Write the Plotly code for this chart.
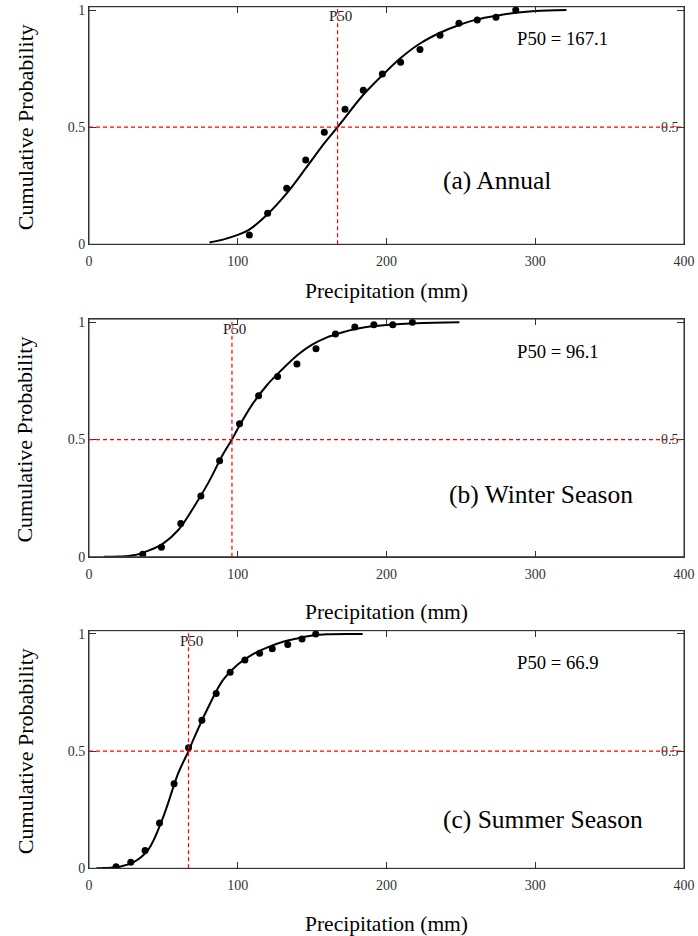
import plotly.graph_objects as go

# ---------------- data ----------------
annual_obs_x = [107.8, 120.1, 132.9, 145.7, 158.2, 172.1, 184.4, 197.2, 209.5, 222.5, 236.0, 248.7, 261.0, 273.6, 286.9]
annual_obs_y = [0.04, 0.132, 0.239, 0.36, 0.478, 0.576, 0.658, 0.727, 0.777, 0.832, 0.892, 0.943, 0.957, 0.969, 1.0]
annual_fit_x = [81, 90, 100, 108, 120, 133, 146, 158, 167.1, 172, 184, 197, 209.5, 222, 236, 249, 261, 274, 287, 300, 321]
annual_fit_y = [0.008, 0.02, 0.04, 0.064, 0.128, 0.218, 0.327, 0.43, 0.5, 0.54, 0.635, 0.72, 0.795, 0.855, 0.903, 0.936, 0.96, 0.976, 0.988, 0.996, 1.0]
annual_p50 = 167.1

winter_obs_x = [36.1, 48.7, 61.7, 75.2, 87.8, 101.2, 114.0, 126.8, 139.8, 152.6, 165.7, 178.7, 191.5, 204.2, 217.4]
winter_obs_y = [0.011, 0.04, 0.142, 0.259, 0.41, 0.567, 0.687, 0.769, 0.822, 0.887, 0.95, 0.98, 0.99, 0.99, 1.0]
winter_fit_x = [10, 20, 30, 40, 50, 60, 70, 80, 90, 96.1, 100, 110, 120, 130, 140, 150, 160, 170, 180, 190, 200, 220, 249]
winter_fit_y = [0.0, 0.001, 0.006, 0.026, 0.057, 0.114, 0.207, 0.313, 0.436, 0.5, 0.546, 0.652, 0.735, 0.80, 0.86, 0.905, 0.936, 0.957, 0.973, 0.983, 0.989, 0.996, 1.0]
winter_p50 = 96.1

summer_obs_x = [18.2, 28.1, 37.7, 47.4, 57.2, 66.9, 75.9, 85.5, 94.9, 104.8, 114.7, 123.2, 133.6, 143.2, 152.4]
summer_obs_y = [0.007, 0.026, 0.076, 0.193, 0.361, 0.515, 0.632, 0.746, 0.837, 0.889, 0.918, 0.937, 0.955, 0.979, 1.0]
summer_fit_x = [5, 10, 20, 30, 40, 50, 60, 66.9, 70, 80, 90, 100, 110, 120, 130, 140, 150, 160, 184]
summer_fit_y = [0.0, 0.001, 0.006, 0.026, 0.081, 0.221, 0.406, 0.5, 0.547, 0.685, 0.803, 0.87, 0.913, 0.943, 0.966, 0.981, 0.993, 0.999, 1.0]
summer_p50 = 66.9

panel_labels = ["(a) Annual", "(b) Winter Season", "(c) Summer Season"]
p50_texts = ["P50 = 167.1", "P50 = 96.1", "P50 = 66.9"]
x_ticks = [0, 100, 200, 300, 400]
y_ticks = [0, 0.5, 1]
y_tick_text = ["0", "0.5", "1"]
x_title = "Precipitation (mm)"
y_title = "Cumulative Probability"

# ---------------- figure ----------------
SERIF = "Liberation Serif"
W, H = 698, 936
ML, MR = 89, 14

panels = [
    (annual_obs_x, annual_obs_y, annual_fit_x, annual_fit_y, annual_p50),
    (winter_obs_x, winter_obs_y, winter_fit_x, winter_fit_y, winter_p50),
    (summer_obs_x, summer_obs_y, summer_fit_x, summer_fit_y, summer_p50),
]
domains = [[0.7390, 0.9928], [0.4052, 0.6591], [0.0723, 0.3262]]
label_pos = [(236.6, 0.274), (240.5, 0.264), (236.6, 0.207)]
p50_text_y = [0.88, 0.876, 0.879]
p50_lab_y = [0.975, 0.973, 0.969]
xtitle_y = [-0.195, -0.233, -0.233]

fig = go.Figure()
annotations = []
shapes = []
layout = {}
RED = "#ff0000"
FRAME = "#333333"

for i, (ox, oy, fx, fy, p50) in enumerate(panels):
    n = "" if i == 0 else str(i + 1)
    xa, ya = "x" + n, "y" + n
    fig.add_trace(go.Scatter(x=fx, y=fy, mode="lines", line=dict(color="black", width=2, shape="spline"),
                             xaxis=xa, yaxis=ya, showlegend=False, hoverinfo="skip"))
    fig.add_trace(go.Scatter(x=ox, y=oy, mode="markers", marker=dict(color="black", size=7),
                             xaxis=xa, yaxis=ya, showlegend=False))
    layout["xaxis" + n] = dict(
        domain=[0, 1], range=[0, 400], anchor=ya, tickvals=x_ticks, ticks="inside", ticklen=6,
        tickcolor=FRAME, showline=True, linecolor=FRAME, linewidth=1, mirror="ticks",
        showgrid=False, zeroline=False, tickfont=dict(family=SERIF, size=14, color="#333"),
        ticklabelstandoff=4, automargin=False,
    )
    layout["yaxis" + n] = dict(
        domain=domains[i], range=[0, 1.014], anchor=xa, tickvals=y_ticks, ticktext=y_tick_text,
        ticks="inside", ticklen=7, tickcolor=FRAME, showline=True, linecolor=FRAME, linewidth=1,
        mirror="ticks", showgrid=False, zeroline=False,
        tickfont=dict(family=SERIF, size=14, color="#333"), automargin=False,
    )
    # frame
    shapes.append(dict(type="rect", xref=xa + " domain", yref=ya + " domain", x0=0, x1=1, y0=0, y1=1,
                       line=dict(color=FRAME, width=1), layer="above"))
    # reference lines
    shapes.append(dict(type="line", xref=xa + " domain", yref=ya, x0=0, x1=1, y0=0.5, y1=0.5,
                       line=dict(color=RED, width=1.2, dash="4px,3px"), layer="above"))
    shapes.append(dict(type="line", xref=xa, yref=ya + " domain", x0=p50, x1=p50, y0=0, y1=1,
                       line=dict(color=RED, width=1.2, dash="4px,3px"), layer="above"))
    # texts
    annotations.append(dict(x=p50 + 2, y=p50_lab_y[i], xref=xa, yref=ya, text="P50", showarrow=False,
                            font=dict(family=SERIF, size=15, color="#222"), xanchor="center", yanchor="middle"))
    annotations.append(dict(x=390.6, y=0.5, xref=xa, yref=ya, text="0.5", showarrow=False,
                            font=dict(family=SERIF, size=14, color="#333"), xanchor="center", yanchor="middle"))
    annotations.append(dict(x=286.4, y=p50_text_y[i], xref=xa, yref=ya, text=p50_texts[i], showarrow=False,
                            font=dict(family=SERIF, size=18.7, color="black"), xanchor="left", yanchor="middle"))
    annotations.append(dict(x=label_pos[i][0], y=label_pos[i][1], xref=xa, yref=ya, text=panel_labels[i],
                            showarrow=False, font=dict(family=SERIF, size=25.5, color="black"),
                            xanchor="left", yanchor="middle"))
    annotations.append(dict(x=0.5, y=xtitle_y[i], xref=xa + " domain", yref=ya + " domain", text=x_title,
                            showarrow=False, font=dict(family=SERIF, size=21.5, color="black"),
                            xanchor="center", yanchor="middle"))
    annotations.append(dict(x=(25 - ML) / (W - ML - MR), y=0.5, xref="paper", yref=ya, text=y_title,
                            showarrow=False, textangle=-90, font=dict(family=SERIF, size=22, color="black"),
                            xanchor="center", yanchor="middle"))

fig.update_layout(
    width=W, height=H, margin=dict(l=ML, r=MR, t=0, b=0),
    paper_bgcolor="white", plot_bgcolor="white",
    annotations=annotations, shapes=shapes, **layout,
)

# remove the default 8px page margin so the figure fills the 698x936 window exactly
fig.write_html("out.html", config={"displayModeBar": False},
               post_script="document.body.style.margin='0';")
